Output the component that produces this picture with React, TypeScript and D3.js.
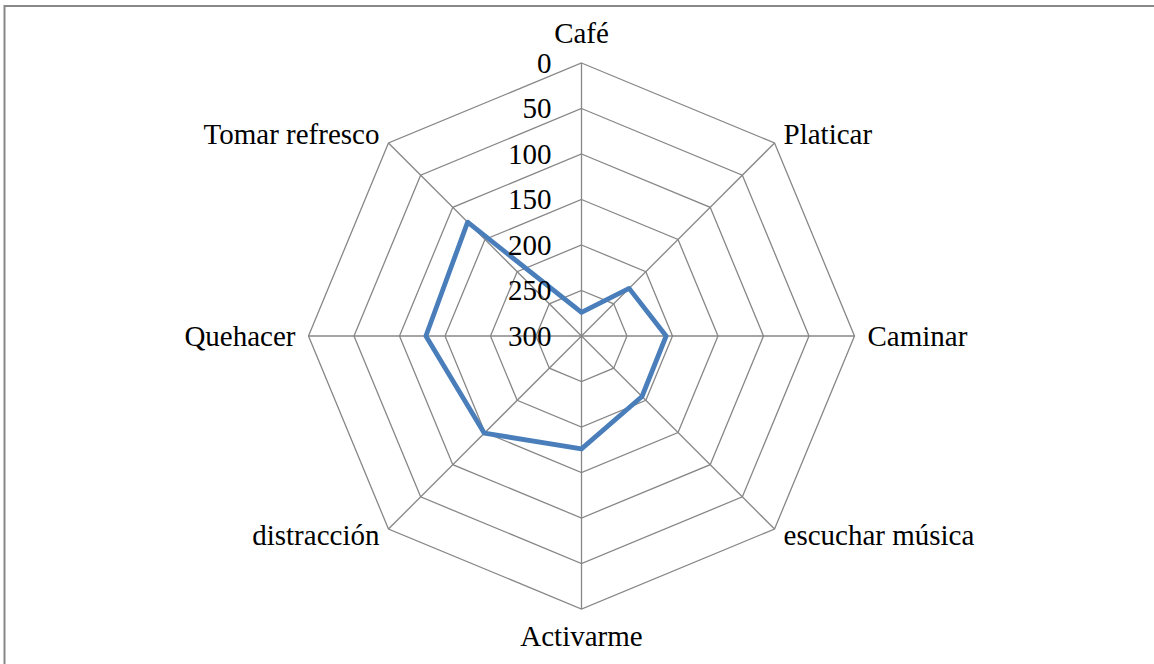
import React from "react";
import * as d3 from "d3";

const categories = ["Café", "Platicar", "Caminar", "escuchar música", "Activarme", "distracción", "Quehacer", "Tomar refresco"];
const values = [274, 226, 207, 206, 176, 149, 129, 123];
const tickValues = [0, 50, 100, 150, 200, 250, 300];

const W = 1154, H = 664;
const cx = 581.5, cy = 336, R = 273;
const FONT = "'Liberation Serif', 'Times New Roman', serif";

export default function App() {
  const r = d3.scaleLinear().domain([0, 300]).range([R, 0]);
  const n = categories.length;
  const angle = (i: number) => (i * 2 * Math.PI) / n; // 0 = up, clockwise
  const pt = (i: number, rad: number): [number, number] => [
    cx + rad * Math.sin(angle(i)),
    cy - rad * Math.cos(angle(i)),
  ];
  const line = d3.line<[number, number]>();
  const gridLevels = tickValues.slice(0, -1);

  const seriesPts = values.map((v, i) => pt(i, r(v)));

  const labelProps = (i: number) => {
    const [vx, vy] = pt(i, R);
    const s = Math.sin(angle(i));
    const c = Math.cos(angle(i));
    if (Math.abs(s) < 0.01) {
      return c > 0
        ? { x: vx, y: vy - 20, anchor: "middle" }
        : { x: vx, y: vy + 37, anchor: "middle" };
    }
    if (Math.abs(c) < 0.01) {
      return s > 0
        ? { x: vx + 13, y: vy + 10, anchor: "start" }
        : { x: vx - 13, y: vy + 10, anchor: "end" };
    }
    const dy = c > 0 ? 1 : 16;
    return s > 0
      ? { x: vx + 9, y: vy + dy, anchor: "start" }
      : { x: vx - 9, y: vy + dy, anchor: "end" };
  };

  return (
    <svg
      width={W}
      height={H}
      style={{ position: "absolute", left: 0, top: 0, background: "#fff" }}
    >
      <rect x={4.5} y={6} width={W + 20} height={H + 20} fill="#fff" stroke="#888" strokeWidth={2} />
      {gridLevels.map((lv) => (
        <path
          key={lv}
          d={line(categories.map((_, i) => pt(i, r(lv))))! + "Z"}
          fill="none"
          stroke="#878787"
          strokeWidth={1.3}
        />
      ))}
      {categories.map((_, i) => {
        const [x, y] = pt(i, R);
        return <line key={i} x1={cx} y1={cy} x2={x} y2={y} stroke="#878787" strokeWidth={1.3} />;
      })}
      <path
        d={line(seriesPts)! + "Z"}
        fill="none"
        stroke="#4a7ebb"
        strokeWidth={4.8}
        strokeLinejoin="round"
      />
      {tickValues.map((t) => (
        <text
          key={t}
          x={cx - 30}
          y={cy - r(t)}
          dy="0.34em"
          textAnchor="end"
          fontFamily={FONT}
          fontSize={29}
          fill="#000"
        >
          {t}
        </text>
      ))}
      {categories.map((c, i) => {
        const p = labelProps(i);
        return (
          <text
            key={c}
            x={p.x}
            y={p.y}
            textAnchor={p.anchor as any}
            fontFamily={FONT}
            fontSize={29}
            fill="#000"
          >
            {c}
          </text>
        );
      })}
    </svg>
  );
}
